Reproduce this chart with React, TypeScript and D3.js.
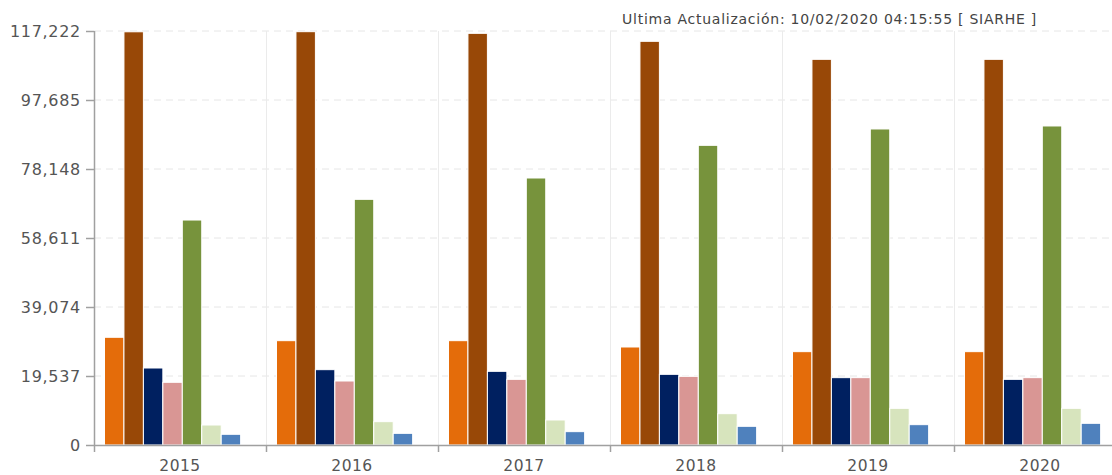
import React from "react";
import * as d3 from "d3";

const years = ["2015", "2016", "2017", "2018", "2019", "2020"];
const seriesNames = ["s1", "s2", "s3", "s4", "s5", "s6", "s7"];
const seriesColors = ["#E46C0A", "#984807", "#002060", "#D99694", "#77933C", "#D7E4BD", "#4F81BD"];

const s1 = [30500, 29540, 29540, 27750, 26430, 26430];
const s2 = [117000, 117030, 116560, 114300, 109200, 109200];
const s3 = [21800, 21330, 20860, 20010, 19070, 18590];
const s4 = [17750, 18120, 18590, 19440, 19070, 19070];
const s5 = [63700, 69560, 75600, 84850, 89480, 90330];
const s6 = [5660, 6610, 7080, 8870, 10380, 10380];
const s7 = [3030, 3300, 3780, 5290, 5760, 6140];
const seriesValues = [s1, s2, s3, s4, s5, s6, s7];

const yTicks = [0, 19537, 39074, 58611, 78148, 97685, 117222];
const yMax = 117222;
const title = "Ultima Actualización: 10/02/2020 04:15:55 [ SIARHE ]";

export default function App() {
  const W = 1112;
  const H = 475;
  const left = 94;
  const right = 1126;
  const top = 31;
  const bottom = 445;
  const font = "'DejaVu Sans', Verdana, sans-serif";

  const x0 = d3.scaleBand<string>().domain(years).range([left, right]).padding(0);
  const x1 = d3.scaleBand<string>().domain(seriesNames).range([10.5, 10.5 + 7 * 19.45]).padding(0);
  const y = d3.scaleLinear().domain([0, yMax]).range([bottom, top]);
  const fmt = d3.format(",");

  return (
    <div style={{ position: "absolute", left: 0, top: 0, width: W, height: H, overflow: "hidden" }}>
      <svg width={W} height={H} style={{ display: "block", background: "#fff" }}>
        {/* horizontal dashed grid */}
        {yTicks.slice(1).map((t) => (
          <line key={"hg" + t} x1={left} x2={W} y1={y(t)} y2={y(t)} stroke="#e6e6e6" strokeWidth={1} strokeDasharray="7,5" />
        ))}
        {/* vertical grid at group boundaries */}
        {years.slice(1).map((yr) => (
          <line key={"vg" + yr} x1={x0(yr)! + 0.5} x2={x0(yr)! + 0.5} y1={top} y2={bottom} stroke="#ebebeb" strokeWidth={1} />
        ))}
        {/* bars */}
        {years.map((yr, i) => (
          <g key={yr} transform={`translate(${x0(yr)},0)`}>
            {seriesNames.map((s, j) => {
              const v = seriesValues[j][i];
              return (
                <rect
                  key={s}
                  x={x1(s)!}
                  y={y(v)}
                  width={x1.bandwidth()}
                  height={bottom - y(v)}
                  fill={seriesColors[j]}
                  stroke="#fff"
                  strokeWidth={1}
                />
              );
            })}
          </g>
        ))}
        {/* y axis */}
        <line x1={left + 0.5} x2={left + 0.5} y1={top} y2={bottom} stroke="#a0a0a0" strokeWidth={1.5} />
        {yTicks.map((t) => (
          <g key={"yt" + t}>
            <line x1={left - 8} x2={left} y1={y(t) + 0.5} y2={y(t) + 0.5} stroke="#a0a0a0" strokeWidth={1.5} />
            <text x={left - 13} y={y(t)} dy="0.35em" textAnchor="end" fontFamily={font} fontSize={16} letterSpacing={0.7} fill="#555">
              {fmt(t)}
            </text>
          </g>
        ))}
        {/* x axis */}
        <line x1={left} x2={W} y1={bottom + 0.5} y2={bottom + 0.5} stroke="#a0a0a0" strokeWidth={1.5} />
        {years.map((yr) => (
          <line key={"xt" + yr} x1={x0(yr)! + 0.5} x2={x0(yr)! + 0.5} y1={bottom} y2={bottom + 7} stroke="#a0a0a0" strokeWidth={1.5} />
        ))}
        {years.map((yr) => (
          <text key={"xl" + yr} x={x0(yr)! + x0.bandwidth() / 2} y={471} textAnchor="middle" fontFamily={font} fontSize={15.5} letterSpacing={0.5} fill="#555">
            {yr}
          </text>
        ))}
        {/* title */}
        <text x={622} y={24} fontFamily={font} fontSize={14} letterSpacing={0.75} fill="#444">
          {title}
        </text>
      </svg>
    </div>
  );
}
